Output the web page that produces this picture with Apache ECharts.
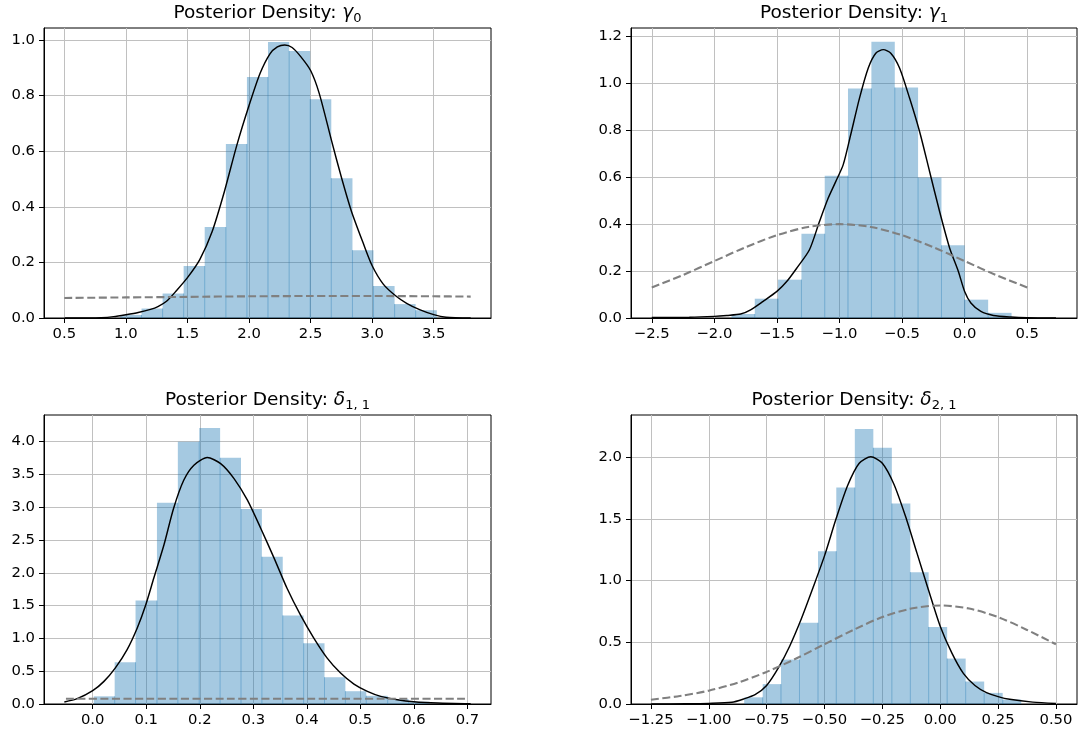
<!DOCTYPE html>
<html>
<head>
<meta charset="utf-8">
<title>Posterior densities</title>
<script src="https://cdn.jsdelivr.net/npm/echarts@6/dist/echarts.min.js"></script>
<style>
  html, body { margin: 0; padding: 0; background: #ffffff; }
  #chart { width: 1078px; height: 735px; }
</style>
</head>
<body>
<div id="chart"></div>
<script>
const FONT = 'DejaVu Sans';

// ---- gamma_0 ----
const gamma0Edges = [0.955, 1.127, 1.298, 1.469, 1.640, 1.812, 1.983, 2.154, 2.326, 2.497, 2.668, 2.840, 3.011, 3.182, 3.353, 3.525];
const gamma0Heights = [0.011, 0.034, 0.088, 0.187, 0.327, 0.626, 0.867, 0.993, 0.960, 0.787, 0.503, 0.244, 0.115, 0.050, 0.028];
const gamma0Kde = [
  [0.50, 0.000], [0.70, 0.000], [0.80, 0.001], [0.90, 0.005], [1.00, 0.012], [1.10, 0.020],
  [1.20, 0.031], [1.26, 0.041], [1.33, 0.060], [1.41, 0.098], [1.50, 0.145], [1.60, 0.210],
  [1.70, 0.310], [1.80, 0.455], [1.90, 0.620], [2.00, 0.764], [2.09, 0.880], [2.17, 0.950],
  [2.23, 0.975], [2.29, 0.982], [2.35, 0.973], [2.42, 0.940], [2.50, 0.890], [2.57, 0.808],
  [2.67, 0.638], [2.75, 0.506], [2.83, 0.386], [2.93, 0.266], [3.00, 0.188], [3.09, 0.122],
  [3.19, 0.080], [3.28, 0.053], [3.39, 0.029], [3.50, 0.012], [3.60, 0.003], [3.80, 0.000]
];
const gamma0Prior = [[0.5, 0.072], [1.0, 0.074], [1.5, 0.076], [2.0, 0.078], [2.5, 0.079], [3.0, 0.079], [3.5, 0.078], [3.8, 0.077]];
const gamma0XTicks = [0.5, 1.0, 1.5, 2.0, 2.5, 3.0, 3.5];
const gamma0XLabels = ['0.5', '1.0', '1.5', '2.0', '2.5', '3.0', '3.5'];
const gamma0YTicks = [0, 0.2, 0.4, 0.6, 0.8, 1.0];
const gamma0YLabels = ['0.0', '0.2', '0.4', '0.6', '0.8', '1.0'];

// ---- gamma_1 ----
const gamma1Edges = [-1.863, -1.677, -1.491, -1.304, -1.118, -0.932, -0.745, -0.558, -0.372, -0.185, 0.001, 0.188, 0.375];
const gamma1Heights = [0.017, 0.082, 0.163, 0.358, 0.605, 0.976, 1.175, 0.980, 0.597, 0.309, 0.078, 0.022];
const gamma1Kde = [
  [-2.50, 0.002], [-2.20, 0.003], [-2.00, 0.007], [-1.90, 0.011], [-1.79, 0.017], [-1.71, 0.035],
  [-1.61, 0.071], [-1.50, 0.113], [-1.42, 0.156], [-1.34, 0.213], [-1.24, 0.290], [-1.16, 0.410],
  [-1.09, 0.510], [-1.03, 0.580], [-0.97, 0.652], [-0.91, 0.780], [-0.84, 0.935], [-0.77, 1.063],
  [-0.71, 1.126], [-0.65, 1.141], [-0.59, 1.126], [-0.52, 1.063], [-0.44, 0.935], [-0.36, 0.793],
  [-0.28, 0.623], [-0.20, 0.453], [-0.12, 0.298], [-0.05, 0.198], [0.00, 0.113], [0.05, 0.064],
  [0.13, 0.028], [0.23, 0.011], [0.37, 0.004], [0.50, 0.001], [0.73, 0.000]
];
const gamma1Prior = [
  [-2.50, 0.130], [-2.25, 0.183], [-2.00, 0.242], [-1.75, 0.301], [-1.50, 0.352], [-1.25, 0.387],
  [-1.00, 0.399], [-0.75, 0.387], [-0.50, 0.352], [-0.25, 0.301], [0.00, 0.242], [0.25, 0.183], [0.50, 0.130]
];
const gamma1XTicks = [-2.5, -2.0, -1.5, -1.0, -0.5, 0.0, 0.5];
const gamma1XLabels = ['\u22122.5', '\u22122.0', '\u22121.5', '\u22121.0', '\u22120.5', '0.0', '0.5'];
const gamma1YTicks = [0, 0.2, 0.4, 0.6, 0.8, 1.0, 1.2];
const gamma1YLabels = ['0.0', '0.2', '0.4', '0.6', '0.8', '1.0', '1.2'];

// ---- delta_{1,1} ----
const delta11Edges = [0.002, 0.041, 0.080, 0.120, 0.159, 0.199, 0.238, 0.277, 0.316, 0.355, 0.394, 0.433, 0.472, 0.511, 0.551, 0.590, 0.629];
const delta11Heights = [0.117, 0.636, 1.576, 3.067, 3.997, 4.208, 3.752, 2.974, 2.244, 1.350, 0.925, 0.408, 0.195, 0.125, 0.075, 0.035];
const delta11Kde = [
  [-0.053, 0.030], [-0.029, 0.081], [0.000, 0.203], [0.021, 0.345], [0.042, 0.547], [0.064, 0.826],
  [0.083, 1.156], [0.099, 1.510], [0.114, 1.916], [0.133, 2.423], [0.151, 2.980], [0.170, 3.410],
  [0.189, 3.640], [0.214, 3.756], [0.239, 3.664], [0.264, 3.436], [0.289, 3.107], [0.314, 2.676],
  [0.339, 2.220], [0.363, 1.764], [0.388, 1.358], [0.413, 1.004], [0.438, 0.699], [0.463, 0.471],
  [0.488, 0.304], [0.513, 0.193], [0.538, 0.117], [0.569, 0.066], [0.600, 0.035], [0.644, 0.015],
  [0.706, 0.003]
];
const delta11Prior = [[-0.05, 0.080], [0.10, 0.080], [0.25, 0.080], [0.40, 0.080], [0.55, 0.080], [0.70, 0.080]];
const delta11XTicks = [0.0, 0.1, 0.2, 0.3, 0.4, 0.5, 0.6, 0.7];
const delta11XLabels = ['0.0', '0.1', '0.2', '0.3', '0.4', '0.5', '0.6', '0.7'];
const delta11YTicks = [0, 0.5, 1.0, 1.5, 2.0, 2.5, 3.0, 3.5, 4.0];
const delta11YLabels = ['0.0', '0.5', '1.0', '1.5', '2.0', '2.5', '3.0', '3.5', '4.0'];

// ---- delta_{2,1} ----
const delta21Edges = [-0.847, -0.767, -0.688, -0.608, -0.528, -0.449, -0.369, -0.289, -0.209, -0.129, -0.050, 0.030, 0.110, 0.190, 0.270, 0.350];
const delta21Heights = [0.054, 0.161, 0.360, 0.658, 1.238, 1.753, 2.228, 2.075, 1.624, 1.068, 0.624, 0.368, 0.182, 0.090, 0.036];
const delta21Kde = [
  [-1.25, 0.000], [-1.10, 0.002], [-1.00, 0.005], [-0.90, 0.014], [-0.85, 0.040], [-0.80, 0.075],
  [-0.75, 0.150], [-0.70, 0.290], [-0.65, 0.470], [-0.60, 0.690], [-0.55, 0.940], [-0.50, 1.200],
  [-0.45, 1.500], [-0.40, 1.770], [-0.35, 1.950], [-0.30, 2.003], [-0.25, 1.950], [-0.20, 1.780],
  [-0.15, 1.520], [-0.10, 1.220], [-0.05, 0.920], [0.00, 0.630], [0.05, 0.414], [0.10, 0.248],
  [0.15, 0.150], [0.20, 0.092], [0.25, 0.060], [0.30, 0.038], [0.40, 0.015], [0.50, 0.004]
];
const delta21Prior = [
  [-1.250, 0.035], [-1.125, 0.065], [-1.000, 0.108], [-0.875, 0.173], [-0.750, 0.260], [-0.625, 0.366],
  [-0.500, 0.484], [-0.375, 0.600], [-0.250, 0.704], [-0.125, 0.773], [0.000, 0.798], [0.125, 0.773],
  [0.250, 0.704], [0.375, 0.600], [0.500, 0.484]
];
const delta21XTicks = [-1.25, -1.0, -0.75, -0.5, -0.25, 0.0, 0.25, 0.5];
const delta21XLabels = ['\u22121.25', '\u22121.00', '\u22120.75', '\u22120.50', '\u22120.25', '0.00', '0.25', '0.50'];
const delta21YTicks = [0, 0.5, 1.0, 1.5, 2.0];
const delta21YLabels = ['0.0', '0.5', '1.0', '1.5', '2.0'];

const panels = [
  { title: '{n|Posterior Density: }{m|\u03b3}{s|0}', edges: gamma0Edges, heights: gamma0Heights, kde: gamma0Kde, prior: gamma0Prior,
    xTicks: gamma0XTicks, xLabels: gamma0XLabels, yTicks: gamma0YTicks, yLabels: gamma0YLabels,
    xMin: 0.335, xMax: 3.965, yMax: 1.043, rect: { left: 44, top: 28, width: 447, height: 290 } },
  { title: '{n|Posterior Density: }{m|\u03b3}{s|1}', edges: gamma1Edges, heights: gamma1Heights, kde: gamma1Kde, prior: gamma1Prior,
    xTicks: gamma1XTicks, xLabels: gamma1XLabels, yTicks: gamma1YTicks, yLabels: gamma1YLabels,
    xMin: -2.666, xMax: 0.898, yMax: 1.233, rect: { left: 631, top: 28, width: 446, height: 290 } },
  { title: '{n|Posterior Density: }{m|\u03b4}{s|1, 1}', edges: delta11Edges, heights: delta11Heights, kde: delta11Kde, prior: delta11Prior,
    xTicks: delta11XTicks, xLabels: delta11XLabels, yTicks: delta11YTicks, yLabels: delta11YLabels,
    xMin: -0.091, xMax: 0.744, yMax: 4.405, rect: { left: 44, top: 415, width: 447, height: 289 } },
  { title: '{n|Posterior Density: }{m|\u03b4}{s|2, 1}', edges: delta21Edges, heights: delta21Heights, kde: delta21Kde, prior: delta21Prior,
    xTicks: delta21XTicks, xLabels: delta21XLabels, yTicks: delta21YTicks, yLabels: delta21YLabels,
    xMin: -1.336, xMax: 0.591, yMax: 2.341, rect: { left: 631, top: 415, width: 446, height: 289 } }
];

function labelFor(ticks, labels) {
  return function (v) {
    for (let i = 0; i < ticks.length; i++) {
      if (Math.abs(ticks[i] - v) < 1e-9) return labels[i];
    }
    return '';
  };
}

// Axes sit underneath the translucent histogram, so grid lines show through the bars.
function axisBase(ticks, labels) {
  return {
    type: 'value',
    z: 0,
    axisLine: { show: true, onZero: false, lineStyle: { color: '#000', width: 1 } },
    axisTick: { show: true, inside: false, length: 5, customValues: ticks, lineStyle: { color: '#000', width: 1 } },
    axisLabel: {
      show: true, customValues: ticks, formatter: labelFor(ticks, labels),
      color: '#000', fontFamily: FONT, fontSize: 14.8, margin: 9, hideOverlap: false
    },
    splitLine: { show: true, lineStyle: { color: '#c0c0c0', width: 1 } },
    minorTick: { show: false },
    minorSplitLine: { show: false }
  };
}

const titleRich = {
  n: { fontFamily: FONT, fontSize: 18.5, color: '#000', lineHeight: 26 },
  m: { fontFamily: FONT, fontStyle: 'italic', fontSize: 18.5, color: '#000', lineHeight: 26 },
  s: { fontFamily: FONT, fontSize: 13, color: '#000', lineHeight: 15, padding: [11, 0, 0, 0] }
};

const BAR_FILL = 'rgba(31,119,180,0.4)';

function histSeries(p, i) {
  const data = p.heights.map((h, k) => [p.edges[k], p.edges[k + 1], h, k > 0 ? Math.min(h, p.heights[k - 1]) : 0]);
  return {
    type: 'custom',
    xAxisIndex: i,
    yAxisIndex: i,
    z: 1,
    silent: true,
    clip: true,
    data: data,
    encode: { x: [0, 1], y: 2 },
    renderItem: function (params, api) {
      const x0 = api.value(0), x1 = api.value(1), h = api.value(2), he = api.value(3);
      const tl = api.coord([x0, h]);
      const br = api.coord([x1, 0]);
      const children = [{
        type: 'rect',
        shape: { x: tl[0], y: tl[1], width: br[0] - tl[0], height: br[1] - tl[1] },
        style: { fill: BAR_FILL }
      }];
      if (he > 0) {
        const a = api.coord([x0, 0]);
        const b = api.coord([x0, he]);
        children.push({
          type: 'line',
          shape: { x1: a[0], y1: a[1], x2: b[0], y2: b[1] },
          style: { stroke: 'rgba(31,119,180,0.4)', lineWidth: 1 }
        });
      }
      return { type: 'group', children: children };
    }
  };
}

const option = {
  animation: false,
  backgroundColor: '#ffffff',
  grid: panels.map(p => ({
    left: p.rect.left, top: p.rect.top, width: p.rect.width, height: p.rect.height,
    show: true, borderColor: '#000', borderWidth: 1, backgroundColor: 'transparent',
    containLabel: false, outerBoundsMode: 'none'
  })),
  xAxis: panels.map((p, i) => Object.assign(axisBase(p.xTicks, p.xLabels), {
    gridIndex: i, position: 'bottom', min: p.xMin, max: p.xMax
  })),
  yAxis: panels.map((p, i) => Object.assign(axisBase(p.yTicks, p.yLabels), {
    gridIndex: i, position: 'left', min: 0, max: p.yMax
  })),
  graphic: panels.map(p => ({
    type: 'text',
    x: p.rect.left + p.rect.width / 2,
    y: p.rect.top - 14.5,
    silent: true,
    style: { text: p.title, rich: titleRich, align: 'center', verticalAlign: 'middle' }
  })),
  series: panels.flatMap((p, i) => [
    histSeries(p, i),
    {
      type: 'line', xAxisIndex: i, yAxisIndex: i, data: p.kde, z: 3,
      showSymbol: false, symbol: 'none', smooth: 0.25, silent: true, clip: true,
      lineStyle: { color: '#000000', width: 1.45 }
    },
    {
      type: 'line', xAxisIndex: i, yAxisIndex: i, data: p.prior, z: 4,
      showSymbol: false, symbol: 'none', smooth: 0.3, silent: true, clip: true,
      lineStyle: { color: '#808080', width: 2.1, type: [8, 3.5] }
    }
  ])
};

const chart = echarts.init(document.getElementById('chart'), null, { renderer: 'canvas' });
chart.setOption(option);
</script>
</body>
</html>
